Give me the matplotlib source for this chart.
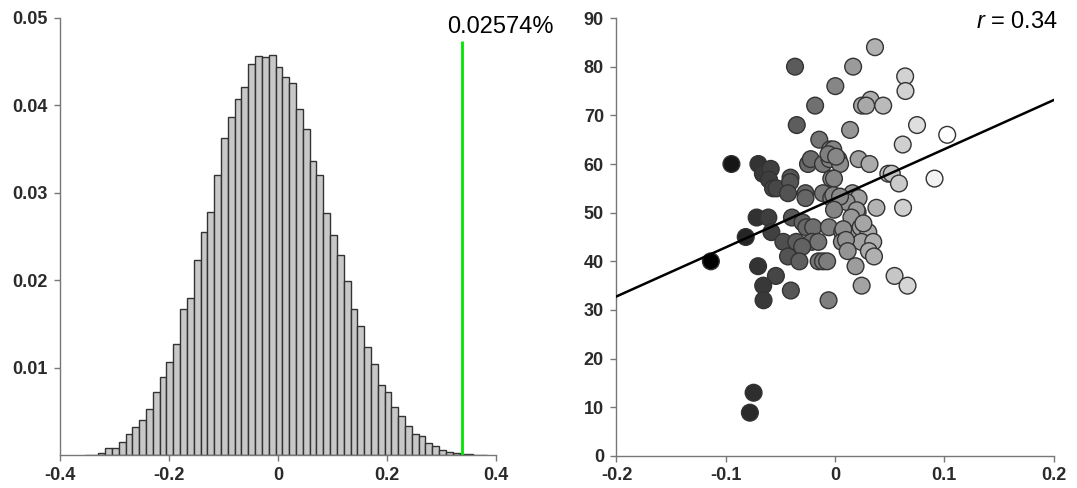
import numpy as np
import matplotlib
matplotlib.use("Agg")
import matplotlib.pyplot as plt
from matplotlib.colors import Normalize

plt.rcParams['font.family'] = ['Liberation Sans', 'DejaVu Sans']
plt.rcParams['axes.unicode_minus'] = False
plt.rcParams['mathtext.fontset'] = 'custom'
plt.rcParams['mathtext.it'] = 'Liberation Sans:italic'
plt.rcParams['mathtext.rm'] = 'Liberation Sans'

# --- histogram data (left panel) ---
bin_start = -0.3548
bin_width = 0.0125
hist_heights = [
    0.0001, 0.0001, 0.0003, 0.0009, 0.0009,
    0.0015, 0.0024, 0.0032, 0.0040, 0.0053, 0.0072, 0.0090, 0.0107, 0.0127,
    0.0167, 0.0180, 0.0223, 0.0255, 0.0278, 0.0320, 0.0363, 0.0386, 0.0407,
    0.0421, 0.0447, 0.0456, 0.0455, 0.0457, 0.0444,
    0.0432, 0.0425, 0.0395, 0.0373, 0.0336, 0.0320, 0.0277, 0.0252, 0.0229,
    0.0199, 0.0167, 0.0148, 0.0124, 0.0104, 0.0080, 0.0072, 0.0055, 0.0045,
    0.0034, 0.0025, 0.0022, 0.0014, 0.0011, 0.0006, 0.0004, 0.0003, 0.0002,
    0.00015, 0.0001, 0.00008,
]
observed_value = 0.338
observed_label = '0.02574%'
hist_xticks = [-0.4, -0.2, 0, 0.2, 0.4]
hist_xticklabels = ['-0.4', '-0.2', '0', '0.2', '0.4']
hist_yticks = [0.01, 0.02, 0.03, 0.04, 0.05]
hist_yticklabels = ['0.01', '0.02', '0.03', '0.04', '0.05']

# --- scatter data (right panel) ---
scatter_x = [
    0.0366, -0.0366, 0.0166, 0.0003, 0.0642, 0.0645,
    -0.0182, 0.0326, 0.0247, 0.0285, 0.0441,
    -0.035, 0.0138, 0.0751, 0.1027, -0.0144, 0.062,
    -0.0948, -0.0701, -0.066, -0.0588, -0.0604, -0.0567, -0.0535,
    -0.0407, -0.041, -0.043, -0.027, -0.027, -0.0247, -0.0222,
    -0.0044, -0.0016, -0.011, -0.005, 0.0031, 0.0047, -0.006, 0.001,
    -0.0034, -0.0009, 0.0216, 0.0316, 0.0488, 0.052, 0.0585, 0.0911,
    -0.011, -0.0034, 0.0122, 0.016, 0.0216, 0.0106, -0.0015, 0.0046,
    0.0379, 0.0623, -0.0009, 0.0207, 0.0198,
    -0.0717, -0.061, -0.0394, 0.015,
    -0.0817, -0.0582, -0.0297, -0.0263, -0.02, -0.0056,
    0.0066, 0.0222, 0.0235, 0.0305, 0.0076, 0.026,
    -0.0473, -0.0354, -0.0213, -0.0153, 0.0063, 0.0241, 0.035, 0.010,
    -0.03, 0.0116, 0.031, 0.0357, -0.043, -0.0326,
    -0.1136, -0.015, -0.011, -0.0072,
    -0.0704, 0.0188, -0.0541, 0.0545, -0.0657, 0.0244, 0.0664,
    -0.0404, -0.0654, -0.0059, -0.0745, -0.0779,
]
scatter_y = [
    84, 80, 80, 76, 78, 75,
    72, 73.2, 72, 72, 72,
    68, 67, 68, 66, 65, 64,
    60, 60, 58, 59, 56.8, 55, 55,
    57.2, 56.3, 54, 54, 53, 60, 61,
    63, 63, 60, 61, 61, 60, 62, 61.5,
    57, 57, 61, 60, 58, 58, 56, 57,
    54, 53, 53, 54, 53, 52.2, 53.6, 53.3,
    51, 51, 50.6, 50.1, 50.5,
    49, 49, 49, 49,
    45, 46, 48, 47, 47, 47,
    46, 46, 47, 46, 46.6, 47.8,
    44, 44, 44, 44, 44, 44, 44, 44.4,
    43, 42.1, 42.1, 41, 41, 40,
    40, 40, 40, 40,
    39, 39, 37, 37, 35, 35, 35,
    34, 32, 32, 13, 8.9,
]
r_label = '$r$ = 0.34'
sc_xticks = [-0.2, -0.1, 0, 0.1, 0.2]
sc_xticklabels = ['-0.2', '-0.1', '0', '0.1', '0.2']
sc_yticks = list(range(0, 91, 10))
sc_yticklabels = [str(v) for v in sc_yticks]

spine_col = '#777777'
text_col = '#2a2a2a'

fig = plt.figure(figsize=(10.77, 4.88), dpi=100)
ax1 = fig.add_axes([0.0557, 0.0666, 0.4051, 0.8975])
ax2 = fig.add_axes([0.5724, 0.0656, 0.4058, 0.8975])


def style_axes(ax):
    for s in ['top', 'right']:
        ax.spines[s].set_visible(False)
    for s in ['left', 'bottom']:
        ax.spines[s].set_color(spine_col)
        ax.spines[s].set_linewidth(1.0)
    ax.tick_params(direction='out', length=4, width=1, color=spine_col,
                   labelcolor=text_col, labelsize=13)
    ax.tick_params(axis='y', pad=5)
    ax.tick_params(axis='x', pad=4)
    for lab in ax.get_xticklabels() + ax.get_yticklabels():
        lab.set_fontweight('bold')


# left: histogram
edges = bin_start + bin_width * np.arange(len(hist_heights))
ax1.bar(edges, hist_heights, width=bin_width, align='edge',
        color='#c8c8c8', edgecolor='#333333', linewidth=1.0)
ax1.vlines(observed_value, 0, 0.0473, color='#00e600', linewidth=2, zorder=3)
ax1.text(0.3095, 0.0482, observed_label, ha='left', va='baseline',
         fontsize=17, color='black', clip_on=False)
ax1.set_xlim(-0.4, 0.4)
ax1.set_ylim(0, 0.05)
ax1.set_xticks(hist_xticks)
ax1.set_xticklabels(hist_xticklabels)
ax1.set_yticks(hist_yticks)
ax1.set_yticklabels(hist_yticklabels)
style_axes(ax1)

# right: scatter with regression line
sx = np.array(scatter_x)
sy = np.array(scatter_y)
norm = Normalize(vmin=sx.min(), vmax=sx.max())
ax2.scatter(sx, sy, c=sx, cmap='gray', norm=norm, s=145,
            edgecolors='#333333', linewidths=1.0, zorder=2)
slope, intercept = np.polyfit(sx, sy, 1)
fit_x = np.array([-0.2, 0.2])
ax2.plot(fit_x, intercept + slope * fit_x, color='black', linewidth=1.8, zorder=3)
ax2.text(0.204, 87.9, r_label, ha='right', va='baseline', fontsize=17,
         color='black', clip_on=False)
ax2.set_xlim(-0.2, 0.2)
ax2.set_ylim(0, 90)
ax2.set_xticks(sc_xticks)
ax2.set_xticklabels(sc_xticklabels)
ax2.set_yticks(sc_yticks)
ax2.set_yticklabels(sc_yticklabels)
style_axes(ax2)

fig.savefig('out.png', dpi=100)
